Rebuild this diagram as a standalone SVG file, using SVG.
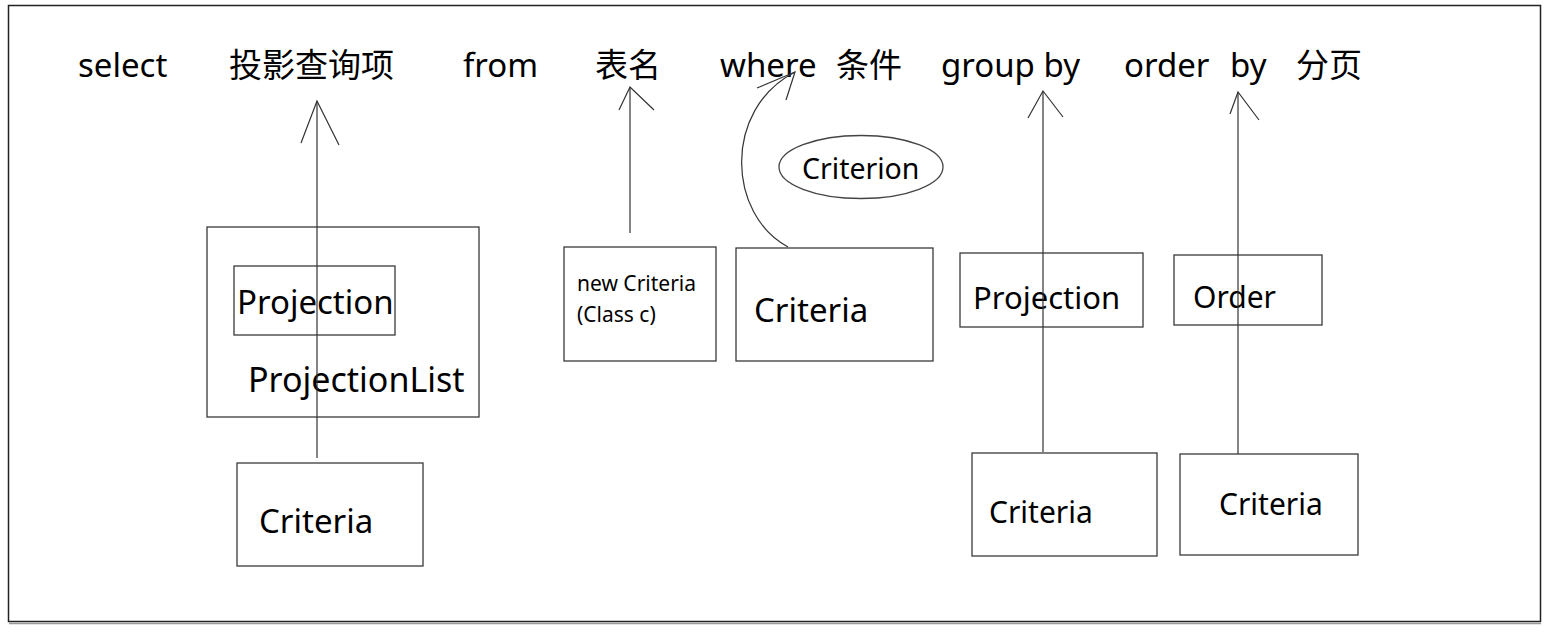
<svg xmlns="http://www.w3.org/2000/svg" width="1553" height="634" viewBox="0 0 1553 634">
<style>
text{font-family:"Noto Sans","Noto Sans CJK SC",sans-serif;fill:#000}
.t{font-size:33px}
.box{fill:#fff;stroke:#3a3a3a;stroke-width:1.3}
.ln{fill:none;stroke:#333;stroke-width:1.2}
</style>
<rect x="0" y="0" width="1553" height="634" fill="#fff"/>
<rect x="8.5" y="5.5" width="1532" height="616" fill="none" stroke="#222" stroke-width="1.5"/>
<line x1="9" y1="623.5" x2="1541" y2="623.5" stroke="#999" stroke-width="1.5"/>
<g id="title">
<text class="t" x="78" y="77">select</text>
<text class="t" x="229" y="77">投影查询项</text>
<text class="t" x="463" y="77">from</text>
<text class="t" x="595" y="77">表名</text>
<text class="t" x="720" y="77">where</text>
<text class="t" x="836" y="77">条件</text>
<text class="t" x="941" y="77">group by</text>
<text class="t" x="1124" y="77">order</text>
<text class="t" x="1230" y="77">by</text>
<text class="t" x="1296" y="77">分页</text>
</g>
<g id="projectionList">
<rect class="box" x="207" y="227" width="272" height="190"/>
<text x="248" y="392" font-size="34">ProjectionList</text>
</g>
<g id="projection1">
<rect class="box" x="234" y="266" width="161" height="69"/>
<text x="237" y="314" font-size="33">Projection</text>
</g>
<g id="criteria1">
<rect class="box" x="237" y="463" width="186" height="103"/>
<text x="259" y="533" font-size="33">Criteria</text>
</g>
<g id="newCriteria">
<rect class="box" x="564" y="247" width="152" height="114"/>
<text x="577" y="291" font-size="21">new Criteria</text>
<text x="577" y="322" font-size="21">(Class c)</text>
</g>
<g id="criteria2">
<rect class="box" x="736" y="248" width="197" height="113"/>
<text x="754" y="322" font-size="33">Criteria</text>
</g>
<g id="criterion">
<ellipse cx="861" cy="167" rx="82" ry="31.5" fill="#fff" stroke="#444" stroke-width="1.3"/>
<text x="802" y="179" font-size="28.5">Criterion</text>
</g>
<g id="projection2">
<rect class="box" x="960" y="253" width="183" height="74"/>
<text x="973" y="309" font-size="31">Projection</text>
</g>
<g id="criteria3">
<rect class="box" x="972" y="453" width="185" height="103"/>
<text x="989" y="523" font-size="30">Criteria</text>
</g>
<g id="order">
<rect class="box" x="1174" y="255" width="148" height="70"/>
<text x="1193" y="308" font-size="30">Order</text>
</g>
<g id="criteria4">
<rect class="box" x="1180" y="454" width="178" height="101"/>
<text x="1219" y="515" font-size="30">Criteria</text>
</g>
<g id="connectors">
<line class="ln" x1="317" y1="458" x2="317" y2="101"/>
<polyline class="ln" points="301,143 317,101 339,145"/>
<line class="ln" x1="630" y1="233" x2="630" y2="87"/>
<polyline class="ln" points="619,110 630,87 654,110"/>
<path class="ln" d="M788 247 C728 215 722 110 795 72"/>
<polyline class="ln" points="757,88 795,72 786,100"/>
<line class="ln" x1="1043" y1="452" x2="1043" y2="91"/>
<polyline class="ln" points="1028,118 1043,91 1063,117"/>
<line class="ln" x1="1238" y1="454" x2="1238" y2="92"/>
<polyline class="ln" points="1230,114 1238,92 1259,120"/>
</g>
</svg>
